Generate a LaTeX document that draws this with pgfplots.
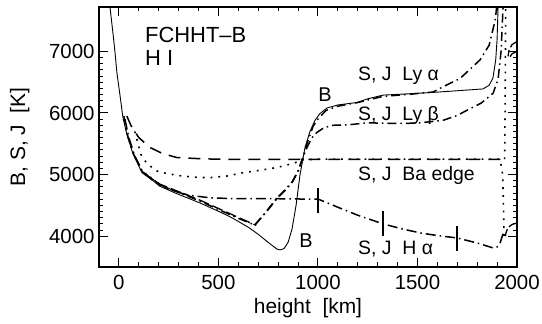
\documentclass[border=0pt]{standalone}
\usepackage{pgfplots}
\pgfplotsset{compat=1.18}
\usepackage{fontspec}
\setmainfont{Liberation Sans}
\begin{document}
\begin{tikzpicture}
\begin{axis}[
  scale only axis,
  width=418bp, height=260bp,
  xmin=-100, xmax=2000, ymin=3500, ymax=7720,
  xtick={0,500,1000,1500,2000},
  ytick={4000,5000,6000,7000},
  minor x tick num=4,
  minor y tick num=9,
  tick align=inside,
  major tick length=9bp,
  minor tick length=4.5bp,
  every tick/.style={black, line width=1bp},
  axis line style={line width=1.8bp},
  /pgf/number format/assume math mode=true,
  /pgf/number format/1000 sep={},
  tick label style={font=\fontsize{20.5}{23}\selectfont},
  xticklabel style={yshift=-4.5bp},
  yticklabel style={xshift=-1bp},
  xlabel={height\ \ [km]},
  ylabel={B, S, J\ \ [K]},
  label style={font=\fontsize{21}{24}\selectfont},
  xlabel style={at={(axis description cs:0.5,0)}, anchor=south, yshift=-54bp},
  ylabel style={at={(axis description cs:0,0.5)}, anchor=south, yshift=66bp},
  clip=true,
]
% B (Planck function)
\addplot[black, line width=0.9bp] coordinates {
(-45,7720) (-30,7300) (-20,7000) (-10,6650) (5,6300) (20,5930) (40,5650) (70,5342) (116,5030) (171,4902) (206,4810) (291,4690) (407,4540) (517,4380) (573,4290) (653,4140) (700,4030) (750,3900) (794,3790) (810,3778) (830,3800) (850,3900) (870,4120) (890,4500) (910,5000) (935,5440) (960,5700) (985,5880) (1010,5990) (1045,6080) (1100,6130) (1196,6170) (1250,6230) (1327,6290) (1450,6310) (1598,6338) (1829,6390) (1860,6450) (1879,6566) (1893,6860) (1900,7200) (1905,7720)
};
% Ly alpha
\addplot[black, line width=1.5bp, dash pattern=on 9bp off 4bp on 1.5bp off 4bp] coordinates {
(25,5950) (45,5620) (70,5360) (116,5050) (171,4930) (206,4830) (291,4720) (407,4570) (517,4410) (600,4290) (683,4180) (740,4390) (794,4610) (840,4760) (870,4870) (900,5050) (920,5230) (950,5550) (975,5780) (1000,5900) (1040,6040) (1100,6110) (1200,6170) (1327,6270) (1450,6300) (1578,6340) (1650,6460) (1714,6560) (1814,6860) (1860,7100) (1890,7500) (1898,7720)
};
\addplot[black, line width=1.3bp, dash pattern=on 11bp off 4bp] coordinates {
(130,5010) (206,4845) (291,4735) (407,4585) (517,4425) (600,4305) (690,4175)
};
% Ly beta
\addplot[black, line width=1.5bp, dash pattern=on 9bp off 4bp on 1.5bp off 4bp] coordinates {
(683,4185) (740,4400) (794,4620) (840,4770) (870,4880) (900,5060) (920,5240) (945,5440) (970,5600) (995,5685) (1030,5760) (1075,5800) (1160,5810) (1246,5840) (1400,5830) (1497,5835) (1628,5880) (1700,5960) (1749,6044) (1820,6160) (1880,6320) (1905,6550) (1920,7000) (1930,7720)
};
% H alpha
\addplot[black, line width=1.5bp, dash pattern=on 10bp off 4bp on 1.5bp off 4bp] coordinates {
(30,5900) (50,5600) (80,5300) (116,5070) (171,4900) (236,4790) (300,4710) (352,4665) (452,4625) (550,4612) (638,4608) (800,4608) (1000,4600) (1010,4590) (1100,4470) (1200,4340) (1327,4200) (1420,4120) (1513,4054) (1600,4010) (1698,3972) (1800,3890) (1879,3810) (1900,3825) (1915,3890) (1930,4040)
};
% tau markers on H alpha
\addplot[black, line width=1.6bp] coordinates {(1000,4370) (1000,4780)};
\addplot[black, line width=1.6bp] coordinates {(1327,4000) (1327,4410)};
\addplot[black, line width=1.6bp] coordinates {(1700,3760) (1700,4170)};
% J Ba edge (dashed)
\addplot[black, line width=1.5bp, dash pattern=on 12bp off 8bp] coordinates {
(40,5950) (60,5800) (100,5600) (156,5440) (220,5340) (291,5277) (422,5255) (600,5245) (1000,5245) (1500,5245) (1930,5245)
};
% S Ba edge (dotted)
\addplot[black, line width=1.6bp, dash pattern=on 1.8bp off 6bp] coordinates {
(80,5700) (110,5330) (140,5180) (190,5060) (241,5016) (320,4975) (392,4955) (457,4950) (540,4975) (623,5030) (710,5070) (794,5115) (874,5180) (925,5240) (1000,5250) (1500,5250) (1915,5250) (1928,5000) (1932,4500) (1935,3950)
};
\addplot[black, line width=1.6bp, dash pattern=on 1.8bp off 6bp] coordinates {
(1938,5250) (1940,6000) (1942,7000) (1943,7720)
};
% small arcs near the right edge
\addplot[black, line width=1.3bp, dash pattern=on 9bp off 3bp] coordinates {
(2000,4215) (1975,4190) (1955,4140) (1945,4060) (1942,4000)
};
\addplot[black, line width=1.3bp, dash pattern=on 9bp off 3bp] coordinates {
(2000,7160) (1975,7110) (1960,7020) (1955,6920)
};
\addplot[black, line width=1.3bp, dash pattern=on 9bp off 3bp on 1.5bp off 3bp] coordinates {
(2000,7000) (1975,6960) (1962,6900)
};
% labels
\node[anchor=west, font=\fontsize{22}{25}\selectfont, inner sep=0pt] at (axis cs:131,7268) {FCHHT–B};
\node[anchor=west, font=\fontsize{22}{25}\selectfont, inner sep=0pt] at (axis cs:131,6892) {H I};
\node[font=\fontsize{20}{23}\selectfont, inner sep=0pt] at (axis cs:1035,6305) {B};
\node[font=\fontsize{20}{23}\selectfont, inner sep=0pt] at (axis cs:940,3923) {B};
\node[anchor=west, font=\fontsize{19.5}{22}\selectfont, inner sep=0pt] at (axis cs:1201,6599) {S, J\ \ Ly α};
\node[anchor=west, font=\fontsize{19.5}{22}\selectfont, inner sep=0pt] at (axis cs:1201,5962) {S, J\ \ Ly β};
\node[anchor=west, font=\fontsize{19.5}{22}\selectfont, inner sep=0pt] at (axis cs:1201,4984) {S, J\ \ Ba edge};
\node[anchor=west, font=\fontsize{19.5}{22}\selectfont, inner sep=0pt] at (axis cs:1201,3793) {S, J\ \ H α};
\end{axis}
\pgfresetboundingbox
\path (current axis.south west) ++(-99bp,-57bp) coordinate (bbA);
\path (current axis.north east) ++(25bp,7bp) coordinate (bbB);
\useasboundingbox (bbA) rectangle (bbB);
\end{tikzpicture}
\end{document}
